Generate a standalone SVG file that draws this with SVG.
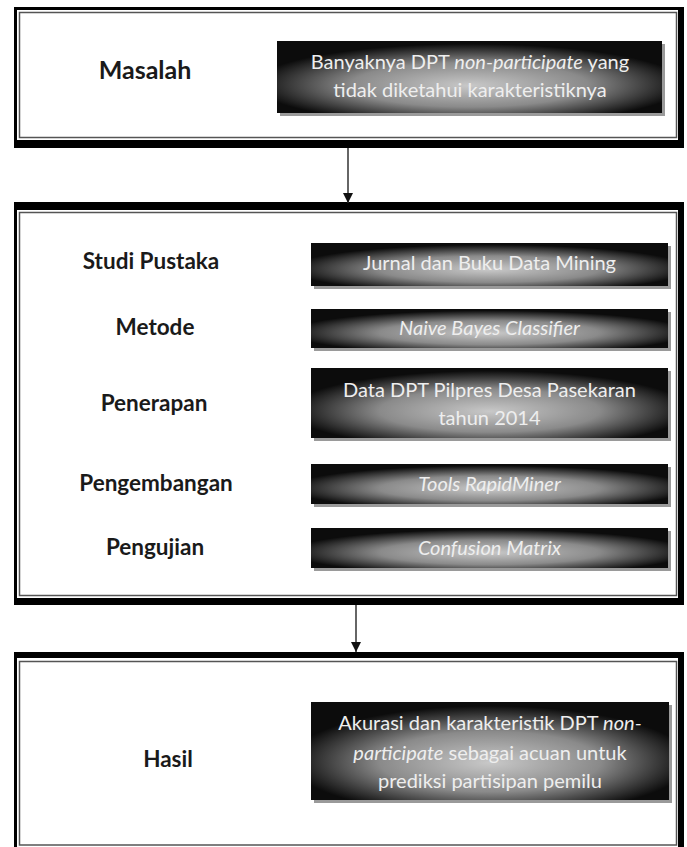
<svg xmlns="http://www.w3.org/2000/svg" width="687" height="847" viewBox="0 0 687 847">
<style>
.outer{fill:#000}
.inner{fill:#fff}
.thin{fill:none;stroke:#555;stroke-width:1.5}
.dark{fill:url(#dg)}
.shadow{fill:#9a9a9a}
.lbl{font-family:Lato,"Liberation Sans",sans-serif;font-weight:bold;font-size:22.5px;fill:#1a1a1a;text-anchor:middle}
.dt{font-family:Lato,"Liberation Sans",sans-serif;font-size:20px;fill:#eeeeee;text-anchor:middle}
.it{font-style:italic}
.conn{stroke:#333;stroke-width:1.5;fill:none}
</style>
<defs>
<radialGradient id="dg" cx="0.5" cy="0.6" r="0.56" fx="0.5" fy="0.62">
<stop offset="0" stop-color="#c8c8c8"/>
<stop offset="0.55" stop-color="#8a8a8a"/>
<stop offset="0.85" stop-color="#363636"/>
<stop offset="1" stop-color="#0c0c0c"/>
</radialGradient>
<marker id="ah" markerWidth="10" markerHeight="10" refX="10" refY="5" orient="auto" markerUnits="userSpaceOnUse">
<path d="M0,0 L10,5 L0,10 Z" fill="#111"/>
</marker>
</defs>
<rect width="687" height="847" fill="#fff"/>

<g id="masalah">
<rect class="outer" x="14" y="7" width="670" height="141"/>
<rect class="inner" x="17" y="10" width="661" height="130"/>
<rect class="thin" x="19.5" y="12.5" width="657" height="125"/>
<text class="lbl" x="145" y="79" style="font-size:25px">Masalah</text>
<rect class="shadow" x="280" y="44" width="385" height="72"/>
<rect class="dark" x="277" y="41" width="385" height="72"/>
<text class="dt" x="470" y="69">Banyaknya DPT <tspan class="it">non-participate</tspan> yang</text>
<text class="dt" x="470" y="97">tidak diketahui karakteristiknya</text>
</g>

<g id="proses">
<rect class="outer" x="14" y="202" width="670" height="403"/>
<rect class="inner" x="17" y="210" width="661" height="388"/>
<rect class="thin" x="19.5" y="212.5" width="657" height="383"/>

<text class="lbl" x="151" y="269">Studi Pustaka</text>
<rect class="shadow" x="314" y="246" width="357" height="43"/>
<rect class="dark" x="311" y="243" width="357" height="43"/>
<text class="dt" x="489.5" y="270">Jurnal dan Buku Data Mining</text>

<text class="lbl" x="155" y="335">Metode</text>
<rect class="shadow" x="314" y="312" width="357" height="39"/>
<rect class="dark" x="311" y="309" width="357" height="39"/>
<text class="dt it" x="489.5" y="335">Naive Bayes Classifier</text>

<text class="lbl" x="154" y="411">Penerapan</text>
<rect class="shadow" x="314" y="371" width="357" height="70"/>
<rect class="dark" x="311" y="368" width="357" height="70"/>
<text class="dt" x="489.5" y="397">Data DPT Pilpres Desa Pasekaran</text>
<text class="dt" x="489.5" y="425">tahun 2014</text>

<text class="lbl" x="156" y="491">Pengembangan</text>
<rect class="shadow" x="314" y="467" width="357" height="40"/>
<rect class="dark" x="311" y="464" width="357" height="40"/>
<text class="dt it" x="489.5" y="491">Tools RapidMiner</text>

<text class="lbl" x="155" y="555">Pengujian</text>
<rect class="shadow" x="314" y="531" width="357" height="40"/>
<rect class="dark" x="311" y="528" width="357" height="40"/>
<text class="dt it" x="489.5" y="555">Confusion Matrix</text>
</g>

<g id="hasil">
<rect class="outer" x="14" y="652" width="670" height="210"/>
<rect class="inner" x="17" y="658" width="661" height="200"/>
<rect class="thin" x="19.5" y="661.5" width="657" height="183.5"/>
<text class="lbl" x="168" y="767">Hasil</text>
<rect class="shadow" x="314" y="705" width="358" height="98"/>
<rect class="dark" x="311" y="702" width="358" height="98"/>
<text class="dt" x="490" y="730">Akurasi dan karakteristik DPT <tspan class="it">non-</tspan></text>
<text class="dt" x="490" y="760"><tspan class="it">participate</tspan> sebagai acuan untuk</text>
<text class="dt" x="490" y="788">prediksi partisipan pemilu</text>
</g>

<g id="connectors">
<line class="conn" x1="348" y1="148" x2="348" y2="203" marker-end="url(#ah)"/>
<line class="conn" x1="356" y1="605" x2="356" y2="652" marker-end="url(#ah)"/>
</g>
</svg>
